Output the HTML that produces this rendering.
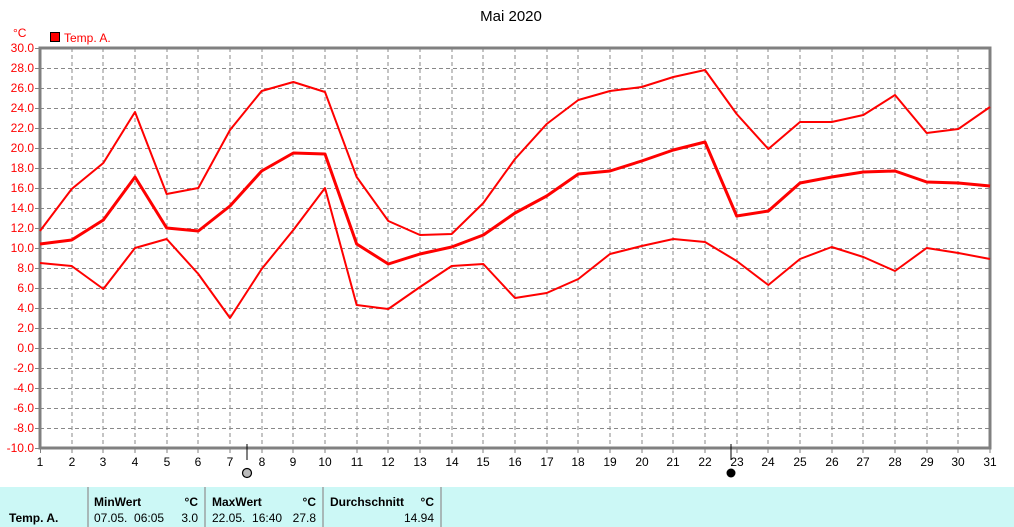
<!DOCTYPE html>
<html><head><meta charset="utf-8"><style>
body{margin:0;width:1014px;height:527px;background:#fff;overflow:hidden;position:relative;font-family:"Liberation Sans",sans-serif}
svg{position:absolute;left:0;top:0}
.tbl{position:absolute;left:0;top:487px;width:1014px;height:40px;background:#ccf8f6;font-size:12px}
.c{position:absolute;top:0;height:40px;border-right:2px solid #a8b8b8}
.b{font-weight:bold}
</style></head><body>
<svg width="1014" height="487" font-family="Liberation Sans, sans-serif" font-size="12">
<text x="511" y="21" text-anchor="middle" font-size="15">Mai 2020</text>
<text x="13" y="37" fill="#f00" font-size="12">°C</text>
<rect x="50.5" y="32.5" width="9" height="9" fill="#f00" stroke="#000"/>
<text x="64" y="42" fill="#f00" font-size="12">Temp. A.</text>
<g stroke="#888" stroke-dasharray="4,3" stroke-width="1">
<path d="M40 68.5H990M40 88.5H990M40 108.5H990M40 128.5H990M40 148.5H990M40 168.5H990M40 188.5H990M40 208.5H990M40 228.5H990M40 248.5H990M40 268.5H990M40 288.5H990M40 308.5H990M40 328.5H990M40 348.5H990M40 368.5H990M40 388.5H990M40 408.5H990M40 428.5H990"/>
<path d="M72 48V448M103 48V448M135 48V448M167 48V448M198 48V448M230 48V448M262 48V448M293 48V448M325 48V448M357 48V448M388 48V448M420 48V448M452 48V448M483 48V448M515 48V448M547 48V448M578 48V448M610 48V448M642 48V448M673 48V448M705 48V448M737 48V448M768 48V448M800 48V448M832 48V448M863 48V448M895 48V448M927 48V448M958 48V448"/>
</g>
<g stroke="#808080" stroke-width="1"><path d="M35 48.5H40M35 68.5H40M35 88.5H40M35 108.5H40M35 128.5H40M35 148.5H40M35 168.5H40M35 188.5H40M35 208.5H40M35 228.5H40M35 248.5H40M35 268.5H40M35 288.5H40M35 308.5H40M35 328.5H40M35 348.5H40M35 368.5H40M35 388.5H40M35 408.5H40M35 428.5H40M35 448.5H40"/>
<path d="M40.5 448V453M72 448V453M103 448V453M135 448V453M167 448V453M198 448V453M230 448V453M262 448V453M293 448V453M325 448V453M357 448V453M388 448V453M420 448V453M452 448V453M483 448V453M515 448V453M547 448V453M578 448V453M610 448V453M642 448V453M673 448V453M705 448V453M737 448V453M768 448V453M800 448V453M832 448V453M863 448V453M895 448V453M927 448V453M958 448V453M990 448V453"/></g>
<rect x="40" y="48" width="950" height="400" fill="none" stroke="#808080" stroke-width="3"/>
<g fill="#f00" text-anchor="end" font-size="12">
<text x="34" y="52">30.0</text><text x="34" y="72">28.0</text><text x="34" y="92">26.0</text><text x="34" y="112">24.0</text><text x="34" y="132">22.0</text><text x="34" y="152">20.0</text><text x="34" y="172">18.0</text><text x="34" y="192">16.0</text><text x="34" y="212">14.0</text><text x="34" y="232">12.0</text><text x="34" y="252">10.0</text><text x="34" y="272">8.0</text><text x="34" y="292">6.0</text><text x="34" y="312">4.0</text><text x="34" y="332">2.0</text><text x="34" y="352">0.0</text><text x="34" y="372">-2.0</text><text x="34" y="392">-4.0</text><text x="34" y="412">-6.0</text><text x="34" y="432">-8.0</text><text x="34" y="452">-10.0</text>
</g>
<g text-anchor="middle" font-size="12">
<text x="40" y="466">1</text><text x="72" y="466">2</text><text x="103" y="466">3</text><text x="135" y="466">4</text><text x="167" y="466">5</text><text x="198" y="466">6</text><text x="230" y="466">7</text><text x="262" y="466">8</text><text x="293" y="466">9</text><text x="325" y="466">10</text><text x="357" y="466">11</text><text x="388" y="466">12</text><text x="420" y="466">13</text><text x="452" y="466">14</text><text x="483" y="466">15</text><text x="515" y="466">16</text><text x="547" y="466">17</text><text x="578" y="466">18</text><text x="610" y="466">19</text><text x="642" y="466">20</text><text x="673" y="466">21</text><text x="705" y="466">22</text><text x="737" y="466">23</text><text x="768" y="466">24</text><text x="800" y="466">25</text><text x="832" y="466">26</text><text x="863" y="466">27</text><text x="895" y="466">28</text><text x="927" y="466">29</text><text x="958" y="466">30</text><text x="990" y="466">31</text>
</g>
<path d="M247 444V460M731 444V460" stroke="#000"/>
<circle cx="247" cy="473" r="4.5" fill="#bbb" stroke="#000" stroke-width="1.2"/>
<circle cx="731" cy="473" r="4.5" fill="#000"/>
<g fill="none" stroke="#f00" stroke-linejoin="round">
<g transform="translate(40,348) scale(31.667,-10)">
<polyline vector-effect="non-scaling-stroke" stroke-width="2" points="0,11.7 1,15.9 2,18.5 3,23.6 4,15.4 5,16.0 6,21.8 7,25.7 8,26.6 9,25.6 10,17.1 11,12.7 12,11.3 13,11.4 14,14.5 15,18.9 16,22.4 17,24.8 18,25.7 19,26.1 20,27.1 21,27.8 22,23.4 23,19.9 24,22.6 25,22.6 26,23.3 27,25.3 28,21.5 29,21.9 30,24.1"/>
<polyline vector-effect="non-scaling-stroke" stroke-width="3" points="0,10.4 1,10.8 2,12.8 3,17.1 4,12.0 5,11.7 6,14.2 7,17.7 8,19.5 9,19.4 10,10.4 11,8.4 12,9.4 13,10.1 14,11.3 15,13.5 16,15.2 17,17.4 18,17.7 19,18.7 20,19.8 21,20.6 22,13.2 23,13.7 24,16.5 25,17.1 26,17.6 27,17.7 28,16.6 29,16.5 30,16.2"/>
<polyline vector-effect="non-scaling-stroke" stroke-width="2" points="0,8.5 1,8.2 2,5.9 3,10.0 4,10.9 5,7.4 6,3.0 7,7.9 8,11.8 9,16.0 10,4.3 11,3.9 12,6.1 13,8.2 14,8.4 15,5.0 16,5.5 17,6.9 18,9.4 19,10.2 20,10.9 21,10.6 22,8.7 23,6.3 24,8.9 25,10.1 26,9.1 27,7.7 28,10.0 29,9.5 30,8.9"/>
</g></g>
</svg>
<div class="tbl">
<div class="c" style="left:0;width:87px"><span class="b" style="position:absolute;left:9px;top:24px">Temp. A.</span></div>
<div class="c" style="left:89px;width:115px"><span class="b" style="position:absolute;left:5px;top:8px">MinWert</span><span class="b" style="position:absolute;right:6px;top:8px">°C</span><span style="position:absolute;left:5px;top:24px">07.05.&nbsp; 06:05</span><span style="position:absolute;right:6px;top:24px">3.0</span></div>
<div class="c" style="left:206px;width:116px"><span class="b" style="position:absolute;left:6px;top:8px">MaxWert</span><span class="b" style="position:absolute;right:6px;top:8px">°C</span><span style="position:absolute;left:6px;top:24px">22.05.&nbsp; 16:40</span><span style="position:absolute;right:6px;top:24px">27.8</span></div>
<div class="c" style="left:324px;width:116px"><span class="b" style="position:absolute;left:6px;top:8px">Durchschnitt</span><span class="b" style="position:absolute;right:6px;top:8px">°C</span><span style="position:absolute;right:6px;top:24px">14.94</span></div>
</div>
</body></html>
